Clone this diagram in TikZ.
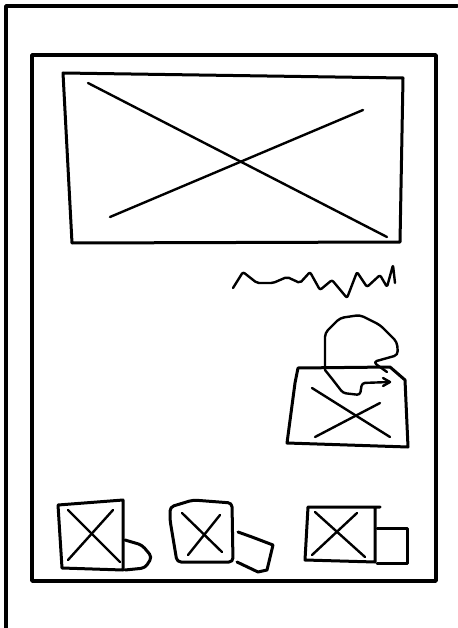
\documentclass[tikz,border=0pt]{standalone}
\begin{document}
\begin{tikzpicture}[x=1pt,y=-1pt,line cap=round,line join=round,
  heavy/.style={draw=black,line width=3.6pt},
  med/.style={draw=black,line width=3pt},
  thin/.style={draw=black,line width=2.4pt}]
\useasboundingbox[fill=white] (0,0) rectangle (457,628);
% outer frame
\draw[heavy] (6,628) -- (6,6) -- (457,6);
% inner frame
\draw[heavy] (32,55) -- (436,55) -- (436,581) -- (32,581) -- cycle;
% big picture box
\draw[med] (63,73) -- (403,78) -- (400,242) -- (72,243) -- cycle;
\draw[thin] (88,83) -- (387,237);
\draw[thin] (110,217) -- (363,110);
% squiggle
\draw[thin,rounded corners=2pt] (233,288) -- (243,272) -- (257,283) -- (273,283) -- (287,277) -- (300,283)
  -- (310,272) -- (320,290) -- (332,280) -- (347,298) -- (357,272) -- (367,287)
  -- (380,275) -- (387,287) -- (393,265) -- (395,283);
% head blob
\draw[thin,rounded corners=4pt] (325,370) -- (325,333) -- (340,318) -- (360,315) -- (380,325) -- (397,342)
  -- (398,355) -- (373,362) -- (387,372);
\draw[thin,rounded corners=3pt] (325,370) -- (333,380) -- (343,393) -- (360,395) -- (362,383) -- (390,382);
\draw[thin] (383,378) -- (390,382) -- (383,386);
% trapezoid
\draw[med] (298,368) -- (390,367) -- (405,380) -- (408,447) -- (287,443) -- (295,383) -- cycle;
\draw[thin] (312,388) -- (390,437);
\draw[thin] (315,437) -- (380,403);
% icon 1
\draw[med] (58,505) -- (123,500) -- (123,570) -- (62,568) -- cycle;
\draw[thin] (68,510) -- (120,562);
\draw[thin] (113,510) -- (68,560);
\draw[med,rounded corners=4pt] (125,540) -- (142,545) -- (152,557) -- (145,568) -- (125,570);
% icon 2
\draw[med,rounded corners=4pt] (177,562) -- (170,520) -- (170,507) -- (193,500) -- (232,503) -- (233,562) -- cycle;
\draw[thin] (182,513) -- (222,552);
\draw[thin] (220,515) -- (188,555);
\draw[med] (238,532) -- (252,537) -- (273,545) -- (267,570) -- (258,572) -- (237,562);
% icon 3
\draw[med] (308,507) -- (380,507) -- (375,507) -- (375,562) -- (305,560) -- cycle;
\draw[thin] (315,512) -- (365,557);
\draw[thin] (357,513) -- (312,555);
\draw[med] (377,528) -- (407,528) -- (407,563) -- (377,563);
\end{tikzpicture}
\end{document}
